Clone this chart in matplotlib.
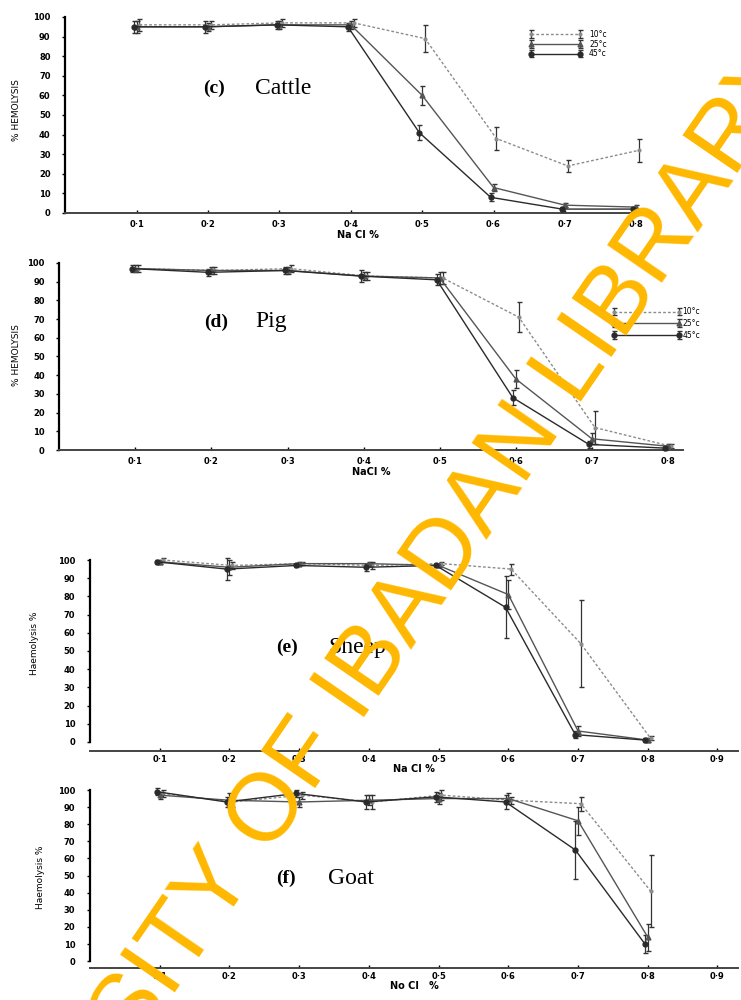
import numpy as np
import matplotlib.pyplot as plt

# NaCl concentration (%)
nacl = [0.1, 0.2, 0.3, 0.4, 0.5, 0.6, 0.7, 0.8]
temps = ['10°c', '25°c', '45°c']

# (c) Cattle - % haemolysis and error
cattle_10 = [96, 96, 97, 97, 89, 38, 24, 32]
cattle_10_err = [3, 2, 2, 2, 7, 6, 3, 6]
cattle_25 = [95, 95, 96, 96, 60, 13, 4, 3]
cattle_25_err = [3, 2, 2, 2, 5, 2, 1, 1]
cattle_45 = [95, 95, 96, 95, 41, 8, 2, 2]
cattle_45_err = [3, 3, 2, 2, 4, 2, 1, 1]

# (d) Pig
pig_10 = [97, 96, 97, 93, 92, 71, 12, 2]
pig_10_err = [2, 2, 2, 2, 3, 8, 9, 1]
pig_25 = [97, 96, 96, 93, 92, 38, 6, 2]
pig_25_err = [2, 2, 2, 2, 3, 5, 3, 1]
pig_45 = [97, 95, 96, 93, 91, 28, 3, 1]
pig_45_err = [2, 2, 2, 3, 3, 4, 2, 1]

# (e) Sheep
sheep_10 = [100, 97, 98, 97, 98, 95, 54, 2]
sheep_10_err = [1, 2, 1, 2, 1, 3, 24, 1]
sheep_25 = [99, 96, 98, 98, 97, 81, 6, 1]
sheep_25_err = [1, 4, 1, 1, 1, 8, 3, 1]
sheep_45 = [99, 95, 97, 96, 97, 74, 4, 1]
sheep_45_err = [1, 6, 1, 2, 1, 17, 2, 1]

# (f) Goat
goat_10 = [98, 93, 97, 93, 97, 94, 92, 41]
goat_10_err = [2, 3, 2, 4, 3, 2, 4, 21]
goat_25 = [97, 94, 93, 94, 95, 95, 82, 14]
goat_25_err = [2, 4, 3, 3, 3, 3, 8, 8]
goat_45 = [99, 93, 98, 93, 96, 93, 65, 10]
goat_45_err = [2, 3, 2, 4, 3, 4, 17, 5]

styles = [
    dict(color='#8c8c8c', ls=(0, (2, 1.5)), marker='.', ms=4),
    dict(color='#555555', ls='-', marker='^', ms=3.5),
    dict(color='#2a2a2a', ls='-', marker='o', ms=3.5),
]
dodge = [0.004, 0.0, -0.004]

fig = plt.figure(figsize=(7.41, 10), dpi=100)
fig.patch.set_facecolor('white')


def panel(rect, series, xmax, ymin, xticks, title, title_xy, ylabel, ylab_xy,
          xlabel, tick_pad, label_pad, legend_kw):
    ax = fig.add_axes(rect)
    for i, (y, e) in enumerate(series):
        st = styles[i]
        x = np.array(nacl) + dodge[i]
        ax.errorbar(x, y, yerr=e, color=st['color'], ls=st['ls'], lw=1.0,
                    marker=st['marker'], ms=st['ms'], mfc=st['color'],
                    mec=st['color'], ecolor='#333333', elinewidth=0.9,
                    capsize=1.8, label=temps[i], clip_on=False, zorder=3)
    ax.set_xlim(0, xmax)
    ax.set_ylim(ymin, 100)
    for s in ['top', 'right']:
        ax.spines[s].set_visible(False)
    ax.spines['left'].set_bounds(0, 100)
    ax.spines['left'].set_linewidth(1.6)
    ax.spines['bottom'].set_linewidth(1.4)
    ax.spines['bottom'].set_color('#444444')
    ax.set_yticks(range(0, 101, 10))
    ax.set_yticklabels([str(v) for v in range(0, 101, 10)], fontsize=6,
                       fontweight='bold')
    ax.set_xticks(xticks)
    ax.set_xticklabels([('%.1f' % v).replace('.', '·') for v in xticks],
                       fontsize=6, fontweight='bold')
    ax.tick_params(axis='y', length=2.5, width=1, pad=8)
    ax.tick_params(axis='x', length=2, width=1, pad=tick_pad, direction='in')
    ax.set_xlabel(xlabel, fontsize=7, fontweight='bold', labelpad=label_pad)
    fig.text(ylab_xy[0], ylab_xy[1], ylabel, rotation=90,
             fontsize=6.5, ha='center', va='center')
    ax.text(title_xy[0], title_xy[1], title[0], transform=fig.transFigure,
            fontsize=14, fontweight='bold', family='Liberation Serif',
            ha='left', va='center')
    ax.text(title_xy[0] + 0.07, title_xy[1], title[1],
            transform=fig.transFigure, fontsize=17,
            family='Liberation Serif', ha='left', va='center')
    if legend_kw is not None:
        ax.legend(fontsize=5.5, frameon=False, numpoints=2, **legend_kw)
    return ax


panel([0.088, 0.787, 0.79, 0.196],
      [(cattle_10, cattle_10_err), (cattle_25, cattle_25_err),
       (cattle_45, cattle_45_err)],
      0.82, 0, nacl, ('(c)', 'Cattle'), (0.274, 0.912), '% HEMOLYSIS',
      (0.022, 0.89), 'Na Cl %', 5, 1,
      dict(loc='upper left', bbox_to_anchor=(0.78, 0.97), handlelength=7,
           labelspacing=0.1, handletextpad=0.9))

panel([0.080, 0.55, 0.842, 0.187],
      [(pig_10, pig_10_err), (pig_25, pig_25_err), (pig_45, pig_45_err)],
      0.82, 0, nacl, ('(d)', 'Pig'), (0.275, 0.678), '% HEMOLYSIS',
      (0.022, 0.645), 'NaCl %', 5, 1,
      dict(loc='upper left', bbox_to_anchor=(0.875, 0.8), handlelength=9,
           labelspacing=0.35, handletextpad=0.2))

xt = nacl + [0.9]
panel([0.1215, 0.249, 0.875, 0.191],
      [(sheep_10, sheep_10_err), (sheep_25, sheep_25_err),
       (sheep_45, sheep_45_err)],
      0.93, -5, xt, ('(e)', 'Sheep'), (0.373, 0.353), 'Haemolysis %',
      (0.046, 0.357), 'Na Cl %', 3, 0, None)

panel([0.1215, 0.032, 0.875, 0.178],
      [(goat_10, goat_10_err), (goat_25, goat_25_err), (goat_45, goat_45_err)],
      0.93, -4, xt, ('(f)', 'Goat'), (0.372, 0.122), 'Haemolysis %',
      (0.054, 0.123), 'No Cl   %', 3, 0, None)

# library watermark
fig.text(0.470, 0.303, 'UNIVERSITY OF IBADAN LIBRARY', rotation=55.5,
         rotation_mode='anchor', ha='center', va='center', fontsize=69,
         fontweight='normal', family='Liberation Sans', color='#FFB800',
         zorder=10)

fig.savefig('out.png', dpi=100)
